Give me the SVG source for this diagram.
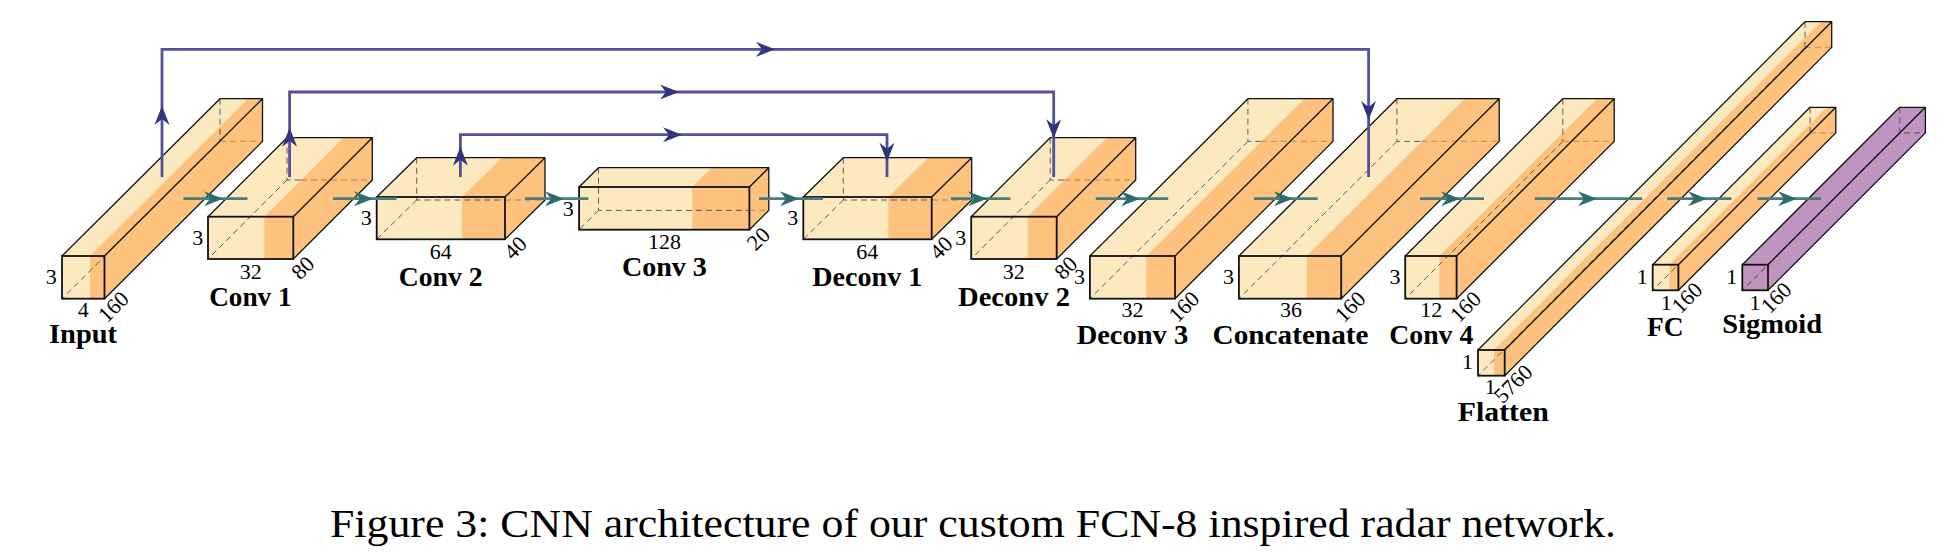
<svg xmlns="http://www.w3.org/2000/svg" width="1960" height="560" viewBox="0 0 1960 560">
<style>
.lt{fill:#fde9bf}.or{fill:#fcc27e}.pu{fill:#bf94bf}
.e{fill:none;stroke:#111;stroke-width:1.3;stroke-linejoin:round}
.f{fill:none;stroke:#111;stroke-width:1.8}
.h{fill:none;stroke:#555;stroke-width:.95;stroke-dasharray:6 4}
.t{fill:none;stroke:#c9975e;stroke-width:1.3;stroke-dasharray:6 4}
.v{fill:none;stroke:#75577a;stroke-width:1.1;stroke-dasharray:6 4}
text{font-family:"Liberation Serif","Times New Roman",serif;fill:#000;text-anchor:middle}
.n{font-size:22px}
.l{font-size:27px;font-weight:700}
.c{font-size:39px;text-anchor:start}
.sk{fill:none;stroke:#52529a;stroke-width:2.8}
.fw{fill:none;stroke:#4a7d7d;stroke-width:2.8}
.sh{fill:#33337f}.fh{fill:#2f6b6c}
</style>
<defs>
<path id="hb" class="sh" d="M0 0L-19 -7.5L-13 0L-19 7.5Z"/>
<path id="ht" class="fh" d="M0 0L-19 -7.5L-13 0L-19 7.5Z"/>
</defs>
<rect width="1960" height="560" fill="#fff"/>
<g id="input">
<path class="lt" d="M62 256L220 98.7H262.5L104.5 256ZM62 256H104.5V298.7H62Z"/>
<path class="or" d="M90 256L248 98.7H262.5V141.4L104.5 298.7H90Z"/>
<path class="h" d="M220 98.7V141.4M220 141.4L62 298.7"/><path class="t" d="M220 141.4H262.5"/>
<path class="e" d="M62 256L220 98.7H262.5L104.5 256M262.5 98.7V141.4L104.5 298.7"/>
<rect class="f" x="62" y="256" width="42.5" height="42.7"/>
<text class="n" x="51.3" y="284">3</text><text class="n" x="83.3" y="317.3">4</text>
<text class="n" transform="translate(113.6 307) rotate(-45)" y="7">160</text>
<text class="l" x="83" y="342.7" textLength="68" lengthAdjust="spacingAndGlyphs">Input</text>
</g>
<g id="conv1">
<path class="lt" d="M208 216.7L287 137.7H372.3L293.3 216.7ZM208 216.7H293.3V259H208Z"/>
<path class="or" d="M264.3 216.7L343.3 137.7H372.3V180L293.3 259H264.3Z"/>
<path class="h" d="M287 137.7V180H301M287 180L208 259"/><path class="t" d="M301 180H372.3"/>
<path class="e" d="M208 216.7L287 137.7H372.3L293.3 216.7M372.3 137.7V180L293.3 259"/>
<rect class="f" x="208" y="216.7" width="85.3" height="42.3"/>
<text class="n" x="197.8" y="245">3</text><text class="n" x="250.8" y="279">32</text>
<text class="n" transform="translate(303 268) rotate(-45)" y="7">80</text>
<text class="l" x="250.4" y="305.7" textLength="82.5" lengthAdjust="spacingAndGlyphs">Conv 1</text>
</g>
<g id="conv2">
<path class="lt" d="M376.7 197L416.7 157.7H545L505 197ZM376.7 197H505V239.3H376.7Z"/>
<path class="or" d="M462 197L502 157.7H545V200L505 239.3H462Z"/>
<path class="h" d="M416.7 157.7V200H505M416.7 200L376.7 239.3"/><path class="t" d="M505 200H545"/>
<path class="e" d="M376.7 197L416.7 157.7H545L505 197M545 157.7V200L505 239.3"/>
<rect class="f" x="376.7" y="197" width="128.3" height="42.3"/>
<text class="n" x="366.2" y="225.3">3</text><text class="n" x="440.7" y="259.3">64</text>
<text class="n" transform="translate(515.6 248) rotate(-45)" y="7">40</text>
<text class="l" x="440.7" y="285.7" textLength="84" lengthAdjust="spacingAndGlyphs">Conv 2</text>
</g>
<g id="conv3">
<path class="lt" d="M579.1 187L598.5 167.7H768.8L749.4 187ZM579.1 187H749.4V229.7H579.1Z"/>
<path class="or" d="M692.2 187L711.6 167.7H768.8V210.4L749.4 229.7H692.2Z"/>
<path class="h" d="M598.5 167.7V210.4H749.4M598.5 210.4L579.1 229.7"/><path class="t" d="M749.4 210.4H768.8"/>
<path class="e" d="M579.1 187L598.5 167.7H768.8L749.4 187M768.8 167.7V210.4L749.4 229.7"/>
<rect class="f" x="579.1" y="187" width="170.3" height="42.7"/>
<text class="n" x="568.2" y="216">3</text><text class="n" x="664.4" y="249.3">128</text>
<text class="n" transform="translate(758.7 239) rotate(-45)" y="7">20</text>
<text class="l" x="664.4" y="276" textLength="85" lengthAdjust="spacingAndGlyphs">Conv 3</text>
</g>
<g id="deconv1">
<path class="lt" d="M803.3 197L843.3 157.7H971.7L931.7 197ZM803.3 197H931.7V239.3H803.3Z"/>
<path class="or" d="M888.3 197L928.3 157.7H971.7V200L931.7 239.3H888.3Z"/>
<path class="h" d="M843.3 157.7V200H931.7M843.3 200L803.3 239.3"/><path class="t" d="M931.7 200H971.7"/>
<path class="e" d="M803.3 197L843.3 157.7H971.7L931.7 197M971.7 157.7V200L931.7 239.3"/>
<rect class="f" x="803.3" y="197" width="128.4" height="42.3"/>
<text class="n" x="792.8" y="225">3</text><text class="n" x="867.3" y="259.3">64</text>
<text class="n" transform="translate(941.3 248) rotate(-45)" y="7">40</text>
<text class="l" x="867.3" y="285.7" textLength="110" lengthAdjust="spacingAndGlyphs">Deconv 1</text>
</g>
<g id="deconv2">
<path class="lt" d="M971.2 216.7L1050.2 137.7H1135.7L1056.7 216.7ZM971.2 216.7H1056.7V259H971.2Z"/>
<path class="or" d="M1027.6 216.7L1106.6 137.7H1135.7V180L1056.7 259H1027.6Z"/>
<path class="h" d="M1050.2 137.7V180H1064.3M1050.2 180L971.2 259"/><path class="t" d="M1064.3 180H1135.7"/>
<path class="e" d="M971.2 216.7L1050.2 137.7H1135.7L1056.7 216.7M1135.7 137.7V180L1056.7 259"/>
<rect class="f" x="971.2" y="216.7" width="85.5" height="42.3"/>
<text class="n" x="960.7" y="245">3</text><text class="n" x="1013.7" y="279">32</text>
<text class="n" transform="translate(1066 268) rotate(-45)" y="7">80</text>
<text class="l" x="1014" y="305.7" textLength="112" lengthAdjust="spacingAndGlyphs">Deconv 2</text>
</g>
<g id="deconv3">
<path class="lt" d="M1089.9 256L1247.9 98.7H1333L1175 256ZM1089.9 256H1175V298.7H1089.9Z"/>
<path class="or" d="M1146.3 256L1304.3 98.7H1333V141.4L1175 298.7H1146.3Z"/>
<path class="h" d="M1247.9 98.7V141.4H1260.9M1247.9 141.4L1089.9 298.7"/><path class="t" d="M1260.9 141.4H1333"/>
<path class="e" d="M1089.9 256L1247.9 98.7H1333L1175 256M1333 98.7V141.4L1175 298.7"/>
<rect class="f" x="1089.9" y="256" width="85.1" height="42.7"/>
<text class="n" x="1079.4" y="284">3</text><text class="n" x="1132.4" y="317.3">32</text>
<text class="n" transform="translate(1184.2 307) rotate(-45)" y="7">160</text>
<text class="l" x="1132.4" y="344.3" textLength="111.5" lengthAdjust="spacingAndGlyphs">Deconv 3</text>
</g>
<g id="concatenate">
<path class="lt" d="M1238.9 256L1396.9 98.7H1499.2L1341.2 256ZM1238.9 256H1341.2V298.7H1238.9Z"/>
<path class="or" d="M1306.7 256L1464.7 98.7H1499.2V141.4L1341.2 298.7H1306.7Z"/>
<path class="h" d="M1396.9 98.7V141.4H1421.3M1396.9 141.4L1238.9 298.7"/><path class="t" d="M1421.3 141.4H1499.2"/>
<path class="e" d="M1238.9 256L1396.9 98.7H1499.2L1341.2 256M1499.2 98.7V141.4L1341.2 298.7"/>
<rect class="f" x="1238.9" y="256" width="102.3" height="42.7"/>
<text class="n" x="1228.4" y="284">3</text><text class="n" x="1291" y="317.3">36</text>
<text class="n" transform="translate(1350.5 307) rotate(-45)" y="7">160</text>
<text class="l" x="1290.5" y="344.3" textLength="156" lengthAdjust="spacingAndGlyphs">Concatenate</text>
</g>
<g id="conv4">
<path class="lt" d="M1405.2 256L1562.8 98.7H1614.2L1456.6 256ZM1405.2 256H1456.6V298.7H1405.2Z"/>
<path class="or" d="M1439.3 256L1596.9 98.7H1614.2V141.4L1456.6 298.7H1439.3Z"/>
<path class="h" d="M1562.8 98.7V141.4M1562.8 141.4L1405.2 298.7"/><path class="t" d="M1562.8 141.4H1614.2"/>
<path class="e" d="M1405.2 256L1562.8 98.7H1614.2L1456.6 256M1614.2 98.7V141.4L1456.6 298.7"/>
<rect class="f" x="1405.2" y="256" width="51.4" height="42.7"/>
<text class="n" x="1395" y="284">3</text><text class="n" x="1431.3" y="317.3">12</text>
<text class="n" transform="translate(1465.8 307) rotate(-45)" y="7">160</text>
<text class="l" x="1431.3" y="344.3" textLength="84" lengthAdjust="spacingAndGlyphs">Conv 4</text>
</g>
<g id="flatten">
<path class="lt" d="M1478 350L1805 21.7H1831.7L1504.7 350ZM1478 350H1504.7V375.7H1478Z"/>
<path class="or" d="M1494 350L1821 21.7H1831.7V47.4L1504.7 375.7H1494Z"/>
<path class="h" d="M1805 21.7V47.4M1805 47.4L1478 375.7"/><path class="t" d="M1805 47.4H1831.7"/>
<path class="e" d="M1478 350L1805 21.7H1831.7L1504.7 350M1831.7 21.7V47.4L1504.7 375.7"/>
<rect class="f" x="1478" y="350" width="26.7" height="25.7"/>
<text class="n" x="1467.5" y="369.3">1</text><text class="n" x="1490.2" y="394">1</text>
<text class="n" transform="translate(1513.4 384) rotate(-45)" y="7">5760</text>
<text class="l" x="1503.3" y="420.7" textLength="91" lengthAdjust="spacingAndGlyphs">Flatten</text>
</g>
<g id="fc">
<path class="lt" d="M1652.7 264.7L1810.1 107.3H1835.8L1678.4 264.7ZM1652.7 264.7H1678.4V290.3H1652.7Z"/>
<path class="or" d="M1669.5 264.7L1826.9 107.3H1835.8V132.9L1678.4 290.3H1669.5Z"/>
<path class="h" d="M1810.1 107.3V132.9M1810.1 132.9L1652.7 290.3"/><path class="t" d="M1810.1 132.9H1835.8"/>
<path class="e" d="M1652.7 264.7L1810.1 107.3H1835.8L1678.4 264.7M1835.8 107.3V132.9L1678.4 290.3"/>
<rect class="f" x="1652.7" y="264.7" width="25.7" height="25.6"/>
<text class="n" x="1642.2" y="284">1</text><text class="n" x="1666.2" y="310">1</text>
<text class="n" transform="translate(1687.2 298) rotate(-45)" y="7">160</text>
<text class="l" x="1665.3" y="336" textLength="36.6" lengthAdjust="spacingAndGlyphs">FC</text>
</g>
<g id="sigmoid">
<path class="pu" d="M1742.3 264.7L1899.7 107.3H1925.4V132.9L1768 290.3H1742.3Z"/>
<path class="v" d="M1899.7 107.3V132.9H1925.4M1899.7 132.9L1742.3 290.3"/>
<path class="e" d="M1742.3 264.7L1899.7 107.3H1925.4L1768 264.7M1925.4 107.3V132.9L1768 290.3"/>
<rect class="f" x="1742.3" y="264.7" width="25.7" height="25.6"/>
<text class="n" x="1731.8" y="284">1</text><text class="n" x="1755" y="310">1</text>
<text class="n" transform="translate(1776.4 298) rotate(-45)" y="7">160</text>
<text class="l" x="1772.2" y="333" textLength="99.7" lengthAdjust="spacingAndGlyphs">Sigmoid</text>
</g>
<g id="connectors">
<path class="fw" d="M183.5 198.7H247.5M333 198.7H396.5M524.8 198.7H588.4M759 198.7H823M951 198.7H1010.4M1095.8 198.7H1168.2M1254 198.7H1317.7M1420 198.7H1484M1534.8 198.7H1642.2M1667.4 198.7H1731.4M1757.5 198.7H1821"/>
<use href="#ht" x="223" y="198.7"/><use href="#ht" x="373" y="198.7"/><use href="#ht" x="564" y="198.7"/><use href="#ht" x="799" y="198.7"/><use href="#ht" x="987" y="198.7"/><use href="#ht" x="1140" y="198.7"/><use href="#ht" x="1293" y="198.7"/><use href="#ht" x="1460" y="198.7"/><use href="#ht" x="1597" y="198.7"/><use href="#ht" x="1707" y="198.7"/><use href="#ht" x="1797" y="198.7"/>
<path class="sk" d="M162 177V49.3H1368.6V177"/>
<path class="sk" d="M289.6 177V92H1053.7V177"/>
<path class="sk" d="M460.4 177V134.7H887V177"/>
<use href="#hb" transform="translate(162 106) rotate(-90)"/><use href="#hb" transform="translate(775 49.3)"/><use href="#hb" transform="translate(1368.6 120) rotate(90)"/>
<use href="#hb" transform="translate(289.6 127.7) rotate(-90)"/><use href="#hb" transform="translate(679 92)"/><use href="#hb" transform="translate(1053.7 138.3) rotate(90)"/>
<use href="#hb" transform="translate(460.4 146.7) rotate(-90)"/><use href="#hb" transform="translate(682 134.7)"/><use href="#hb" transform="translate(887 161.7) rotate(90)"/>
</g>
<text class="c" x="330" y="537" textLength="1286" lengthAdjust="spacingAndGlyphs">Figure 3: CNN architecture of our custom FCN-8 inspired radar network.</text>
</svg>
